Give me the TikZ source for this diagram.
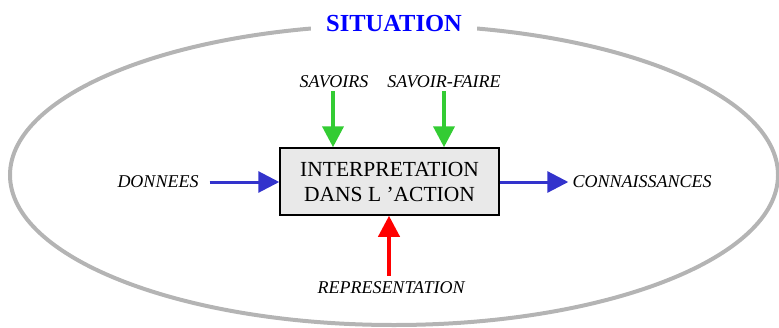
\documentclass[tikz,border=0pt]{standalone}
\usepackage{fontspec}
\setmainfont{Liberation Serif}
\usetikzlibrary{arrows.meta}
\definecolor{ringgray}{HTML}{B4B4B4}
\definecolor{boxfill}{HTML}{E9E9E9}
\definecolor{ingreen}{HTML}{33CC33}
\definecolor{flowblue}{HTML}{3333CC}
\definecolor{titleblue}{HTML}{0000FF}
\tikzset{
  lbl/.style={inner sep=0pt, font=\fontsize{18}{21}\selectfont\itshape},
  core/.style={draw=black, line width=1.5pt, fill=boxfill, minimum width=219pt,
    minimum height=67pt, align=center, inner sep=0pt,
    font=\fontsize{21.5}{25}\selectfont},
  tip/.style={-{Triangle[length=21pt,width=21pt]}},
  inarrow/.style={tip, draw=ingreen, line width=4pt},
  flowarrow/.style={tip, draw=flowblue, line width=3pt},
  reparrow/.style={tip, draw=red, line width=4pt},
}
\begin{document}
\begin{tikzpicture}[x=1pt,y=-1pt]
  \useasboundingbox (0,0) rectangle (779,327);
  % surrounding situation
  \draw[ringgray, line width=4pt] (394,175) ellipse [x radius=384, y radius=150];
  \node[fill=white, inner xsep=15pt, inner ysep=4pt, text=titleblue,
    font=\fontsize{24.5}{28}\selectfont\bfseries] (title) at (394,24) {SITUATION};
  % central process
  \node[core] (box) at (389.5,181.5) {INTERPRETATION\\DANS L ’ACTION};
  % labels
  \node[lbl] (sav) at (334,82) {SAVOIRS};
  \node[lbl] (savf) at (444,82) {SAVOIR-FAIRE};
  \node[lbl] (don) at (158,182) {DONNEES};
  \node[lbl] (con) at (642,182) {CONNAISSANCES};
  \node[lbl] (rep) at (391,288) {REPRESENTATION};
  % arrows
  \draw[inarrow] ([xshift=-1pt,yshift=-3pt]sav.south) -- ([xshift=-1pt]sav.south |- box.north);
  \draw[inarrow] ([yshift=-3pt]savf.south) -- (savf.south |- box.north);
  \draw[flowarrow, shorten <=11pt] (don.east) -- (don.east -| box.west);
  \draw[flowarrow, shorten >=4pt] (con.west -| box.east) -- (con.west);
  \draw[reparrow] ([xshift=-2pt,yshift=6pt]rep.north) -- ([xshift=-2pt]rep.north |- box.south);
\end{tikzpicture}
\end{document}
